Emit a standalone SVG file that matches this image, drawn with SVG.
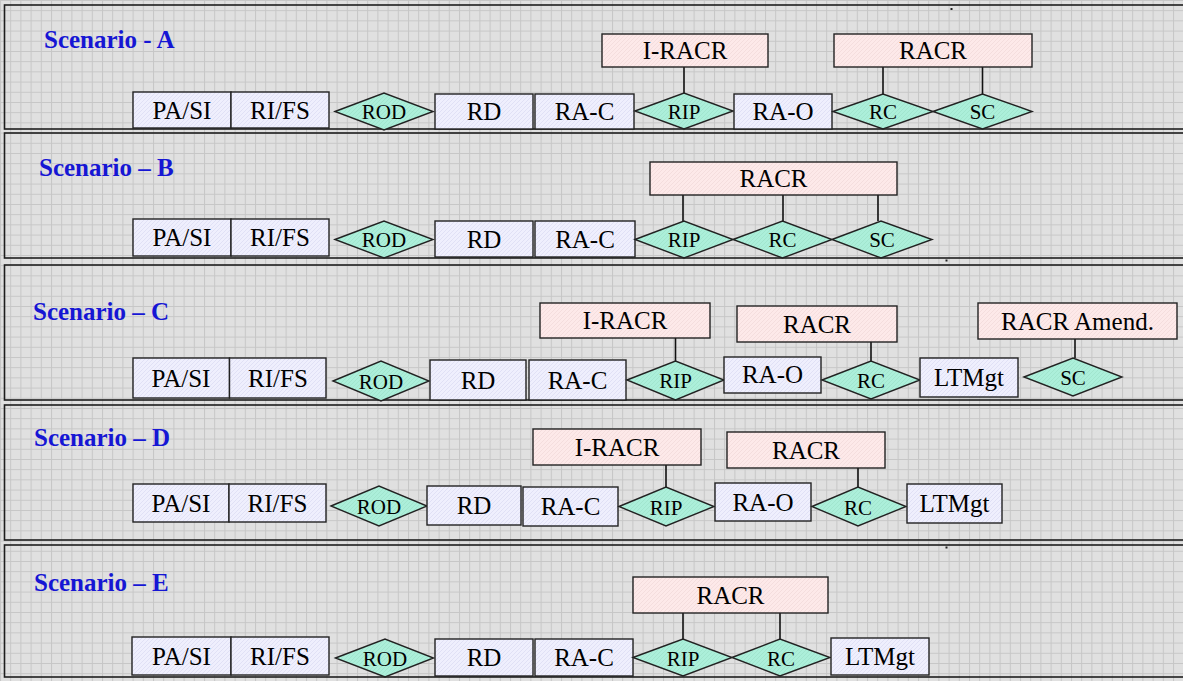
<svg xmlns="http://www.w3.org/2000/svg" width="1183" height="681" viewBox="0 0 1183 681">
  <defs>
    <!-- graph-paper background -->
    <pattern id="grid" width="10.2" height="10.2" patternUnits="userSpaceOnUse">
      <rect width="10.2" height="10.2" fill="#e0e0e0"/>
      <path d="M0.5 0V10.2M0 0.5H10.2" stroke="#c6c6c6" stroke-width="1"/>
    </pattern>
    <!-- fine diagonal shading used inside the shapes -->
    <pattern id="hatchStep" width="4" height="4" patternUnits="userSpaceOnUse">
      <rect width="4" height="4" fill="#efeffd"/>
      <path d="M0 4L4 0" stroke="#dcdcf2" stroke-width="0.8"/>
    </pattern>
    <pattern id="hatchDoc" width="4" height="4" patternUnits="userSpaceOnUse">
      <rect width="4" height="4" fill="#fde9e9"/>
      <path d="M0 4L4 0" stroke="#f1d9d9" stroke-width="0.8"/>
    </pattern>
    <pattern id="hatchGate" width="4" height="4" patternUnits="userSpaceOnUse">
      <rect width="4" height="4" fill="#acefda"/>
      <path d="M0 4L4 0" stroke="#9ee2cc" stroke-width="0.8"/>
    </pattern>
  </defs>
  <style>
    .panel { fill: none; stroke: #1e1e1e; stroke-width: 1.6; }
    .title { font-family: "Liberation Serif", "Times New Roman", serif; font-weight: bold; font-size: 25px; fill: #1616d4; }
    .step { fill: url(#hatchStep); stroke: #222; stroke-width: 1.4; }
    .doc { fill: url(#hatchDoc); stroke: #222; stroke-width: 1.4; }
    .gate { fill: url(#hatchGate); stroke: #222; stroke-width: 1.4; }
    .lbl { font-family: "Liberation Serif", "Times New Roman", serif; font-size: 25px; fill: #000; text-anchor: middle; }
    .glbl { font-family: "Liberation Serif", "Times New Roman", serif; font-size: 21px; fill: #000; text-anchor: middle; }
    .conn line { stroke: #111; stroke-width: 1.6; }
    .dot { fill: #222; }
  </style>

  <rect width="1183" height="681" fill="url(#grid)"/>

  <!-- stray marks -->
  <rect class="dot" x="950.5" y="8" width="2" height="2"/>
  <rect class="dot" x="945.5" y="259.5" width="2" height="2"/>
  <rect class="dot" x="945.5" y="546.5" width="2" height="2"/>

  <!-- panel frames -->
  <g id="panels">
    <rect class="panel" x="4.5" y="5" width="1200" height="124"/>
    <rect class="panel" x="4.5" y="133" width="1200" height="125"/>
    <rect class="panel" x="4.5" y="265" width="1200" height="135"/>
    <rect class="panel" x="4.5" y="405" width="1200" height="135"/>
    <rect class="panel" x="4.5" y="545" width="1200" height="132"/>
  </g>

  <!-- connectors (document box to gate) -->
  <g id="connectors" class="conn">
    <line x1="684" y1="67" x2="684" y2="93"/>
    <line x1="883" y1="67" x2="883" y2="94"/>
    <line x1="982.5" y1="67" x2="982.5" y2="94"/>
    <line x1="683" y1="195" x2="683" y2="221"/>
    <line x1="783" y1="195" x2="783" y2="221"/>
    <line x1="878" y1="195" x2="878" y2="221"/>
    <line x1="675.5" y1="338" x2="675.5" y2="361"/>
    <line x1="871" y1="342" x2="871" y2="361"/>
    <line x1="1075" y1="339" x2="1075" y2="358"/>
    <line x1="666" y1="465" x2="666" y2="487"/>
    <line x1="858" y1="468" x2="858" y2="487"/>
    <line x1="683" y1="613" x2="683" y2="639"/>
    <line x1="780" y1="613" x2="780" y2="639"/>
  </g>

  <!-- Scenario A -->
  <g id="scenario-a">
    <text class="title" x="44" y="48">Scenario - A</text>
    <g id="a-pasi"><rect class="step" x="133" y="92" width="98" height="36"/><text class="lbl" x="182" y="118.5">PA/SI</text></g>
    <g id="a-rifs"><rect class="step" x="231" y="92" width="98" height="36"/><text class="lbl" x="280" y="118.5">RI/FS</text></g>
    <g id="a-rod"><polygon class="gate" points="335,111.5 384,93 433,111.5 384,130"/><text class="glbl" x="384" y="119">ROD</text></g>
    <g id="a-rd"><rect class="step" x="435" y="94" width="98" height="35"/><text class="lbl" x="484" y="120">RD</text></g>
    <g id="a-rac"><rect class="step" x="535" y="94" width="99" height="35"/><text class="lbl" x="584.5" y="120">RA-C</text></g>
    <g id="a-rip"><polygon class="gate" points="635,111 684,93 733,111 684,129"/><text class="glbl" x="684" y="119">RIP</text></g>
    <g id="a-iracr"><rect class="doc" x="602" y="34" width="166" height="33"/><text class="lbl" x="685" y="59">I-RACR</text></g>
    <g id="a-rao"><rect class="step" x="734" y="94" width="98" height="35"/><text class="lbl" x="783" y="120">RA-O</text></g>
    <g id="a-rc"><polygon class="gate" points="833,111.5 883,94 933,111.5 883,129"/><text class="glbl" x="883" y="119">RC</text></g>
    <g id="a-sc"><polygon class="gate" points="933,111.5 982.5,94 1032,111.5 982.5,129"/><text class="glbl" x="982.5" y="119">SC</text></g>
    <g id="a-racr"><rect class="doc" x="834" y="34" width="198" height="33"/><text class="lbl" x="933" y="59">RACR</text></g>
  </g>

  <!-- Scenario B -->
  <g id="scenario-b">
    <text class="title" x="39" y="176">Scenario – B</text>
    <g id="b-pasi"><rect class="step" x="133" y="219" width="98" height="37"/><text class="lbl" x="182" y="246">PA/SI</text></g>
    <g id="b-rifs"><rect class="step" x="231" y="219" width="98" height="37"/><text class="lbl" x="280" y="246">RI/FS</text></g>
    <g id="b-rod"><polygon class="gate" points="335,239.5 384,221 433,239.5 384,258"/><text class="glbl" x="384" y="247">ROD</text></g>
    <g id="b-rd"><rect class="step" x="435" y="221" width="98" height="36"/><text class="lbl" x="484" y="248">RD</text></g>
    <g id="b-rac"><rect class="step" x="535" y="221" width="100" height="36"/><text class="lbl" x="585" y="248">RA-C</text></g>
    <g id="b-rip"><polygon class="gate" points="635,239.5 684,221 733,239.5 684,258"/><text class="glbl" x="684" y="247">RIP</text></g>
    <g id="b-rc"><polygon class="gate" points="733,239.5 782.5,221 832,239.5 782.5,258"/><text class="glbl" x="782.5" y="247">RC</text></g>
    <g id="b-sc"><polygon class="gate" points="832,239.5 881,221 932,239.5 881,258"/><text class="glbl" x="882" y="247">SC</text></g>
    <g id="b-racr"><rect class="doc" x="650" y="162" width="247" height="33"/><text class="lbl" x="773.5" y="187">RACR</text></g>
  </g>

  <!-- Scenario C -->
  <g id="scenario-c">
    <text class="title" x="33" y="320">Scenario – C</text>
    <g id="c-pasi"><rect class="step" x="133" y="358" width="96.5" height="40"/><text class="lbl" x="181" y="387">PA/SI</text></g>
    <g id="c-rifs"><rect class="step" x="229.5" y="358" width="96.5" height="40"/><text class="lbl" x="278" y="387">RI/FS</text></g>
    <g id="c-rod"><polygon class="gate" points="333,381 381,361 429,381 381,401"/><text class="glbl" x="381" y="389">ROD</text></g>
    <g id="c-rd"><rect class="step" x="430" y="360" width="96" height="40"/><text class="lbl" x="478" y="389">RD</text></g>
    <g id="c-rac"><rect class="step" x="529" y="360" width="97" height="40"/><text class="lbl" x="577.5" y="389">RA-C</text></g>
    <g id="c-rip"><polygon class="gate" points="627,380 675.5,361 724,380 675.5,400"/><text class="glbl" x="675.5" y="388">RIP</text></g>
    <g id="c-iracr"><rect class="doc" x="540" y="303" width="170" height="35"/><text class="lbl" x="625" y="329">I-RACR</text></g>
    <g id="c-rao"><rect class="step" x="724" y="357" width="97" height="36"/><text class="lbl" x="772.5" y="383">RA-O</text></g>
    <g id="c-rc"><polygon class="gate" points="822,380 871,361 920,380 871,399"/><text class="glbl" x="871" y="388">RC</text></g>
    <g id="c-racr"><rect class="doc" x="737" y="306" width="160" height="36"/><text class="lbl" x="817" y="333">RACR</text></g>
    <g id="c-ltm"><rect class="step" x="920" y="358" width="98" height="39"/><text class="lbl" x="969" y="386">LTMgt</text></g>
    <g id="c-sc"><polygon class="gate" points="1024,377 1073,358 1122,377 1073,396"/><text class="glbl" x="1073" y="385">SC</text></g>
    <g id="c-amend"><rect class="doc" x="978" y="303" width="199" height="36"/><text class="lbl" x="1077.5" y="329.5">RACR Amend.</text></g>
  </g>

  <!-- Scenario D -->
  <g id="scenario-d">
    <text class="title" x="34" y="446">Scenario – D</text>
    <g id="d-pasi"><rect class="step" x="133" y="484" width="96" height="38"/><text class="lbl" x="181" y="511.5">PA/SI</text></g>
    <g id="d-rifs"><rect class="step" x="229" y="484" width="97" height="38"/><text class="lbl" x="277.5" y="511.5">RI/FS</text></g>
    <g id="d-rod"><polygon class="gate" points="331,506 379,486 427,506 379,526"/><text class="glbl" x="379" y="514">ROD</text></g>
    <g id="d-rd"><rect class="step" x="427" y="486" width="94" height="39"/><text class="lbl" x="474" y="514">RD</text></g>
    <g id="d-rac"><rect class="step" x="523" y="487" width="95" height="39"/><text class="lbl" x="570.5" y="515">RA-C</text></g>
    <g id="d-rip"><polygon class="gate" points="619,506.5 666,487 714,506.5 666,526"/><text class="glbl" x="666" y="514.5">RIP</text></g>
    <g id="d-iracr"><rect class="doc" x="533" y="429" width="168" height="36"/><text class="lbl" x="617" y="456">I-RACR</text></g>
    <g id="d-rao"><rect class="step" x="715" y="483" width="96" height="38"/><text class="lbl" x="763" y="510.5">RA-O</text></g>
    <g id="d-rc"><polygon class="gate" points="812,506.5 858,487 906,506.5 858,526"/><text class="glbl" x="858" y="514.5">RC</text></g>
    <g id="d-racr"><rect class="doc" x="727" y="432" width="158" height="36"/><text class="lbl" x="806" y="459">RACR</text></g>
    <g id="d-ltm"><rect class="step" x="907" y="484" width="95" height="39"/><text class="lbl" x="954.5" y="512">LTMgt</text></g>
  </g>

  <!-- Scenario E -->
  <g id="scenario-e">
    <text class="title" x="34" y="591">Scenario – E</text>
    <g id="e-pasi"><rect class="step" x="132" y="637" width="99" height="38"/><text class="lbl" x="181.5" y="664.5">PA/SI</text></g>
    <g id="e-rifs"><rect class="step" x="231" y="637" width="98" height="38"/><text class="lbl" x="280" y="664.5">RI/FS</text></g>
    <g id="e-rod"><polygon class="gate" points="335.5,658 385,639 433.5,658 385,677"/><text class="glbl" x="385" y="666">ROD</text></g>
    <g id="e-rd"><rect class="step" x="435" y="639" width="98" height="37"/><text class="lbl" x="484" y="666">RD</text></g>
    <g id="e-rac"><rect class="step" x="535" y="639" width="98" height="37"/><text class="lbl" x="584" y="666">RA-C</text></g>
    <g id="e-rip"><polygon class="gate" points="633,657.5 683,639 732,657.5 683,676"/><text class="glbl" x="683" y="665.5">RIP</text></g>
    <g id="e-rc"><polygon class="gate" points="732,657.5 780,639 830,657.5 780,676"/><text class="glbl" x="781" y="665.5">RC</text></g>
    <g id="e-racr"><rect class="doc" x="633" y="577" width="195" height="36"/><text class="lbl" x="730.5" y="604">RACR</text></g>
    <g id="e-ltm"><rect class="step" x="831" y="638" width="98" height="37"/><text class="lbl" x="880" y="665">LTMgt</text></g>
  </g>
</svg>
